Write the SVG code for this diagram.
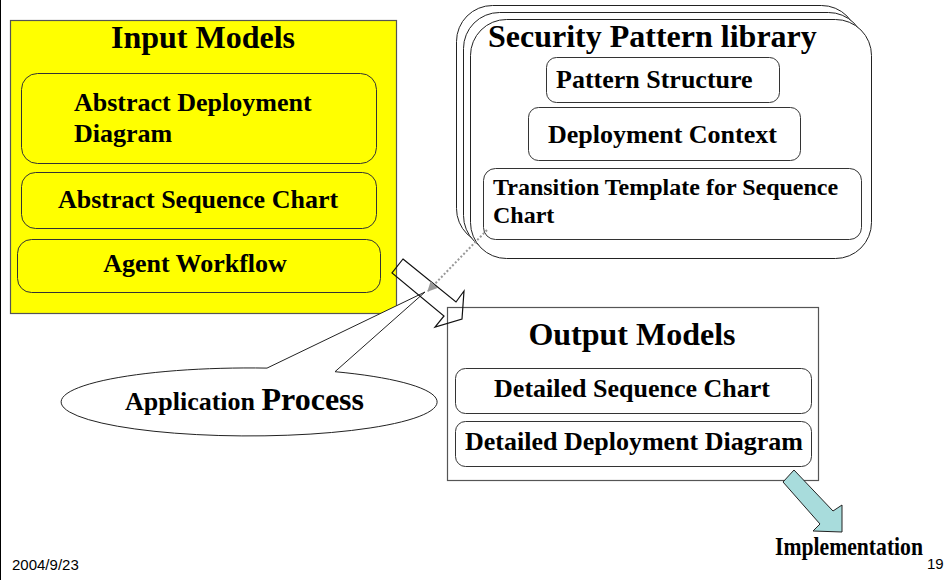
<svg xmlns="http://www.w3.org/2000/svg" width="946" height="580" viewBox="0 0 946 580">
<style>
.t{font-family:"Liberation Serif","Times New Roman",serif;font-weight:bold;fill:#000}
.h{font-size:32px}
.m{font-size:26px}
.s{font-size:24px}
.f{font-family:"Liberation Sans",Arial,sans-serif;font-size:15px;fill:#000}
.box{fill:none;stroke:#333;stroke-width:1}
.ybox{fill:#ffff00;stroke:#333;stroke-width:1}
.wbox{fill:#fff;stroke:#222;stroke-width:1}
</style>
<defs>
<marker id="ah" markerWidth="10" markerHeight="10" refX="9" refY="5" orient="auto" markerUnits="userSpaceOnUse">
<path d="M0,0 L10,5 L0,10 z" fill="#999"/>
</marker>
</defs>
<rect x="0" y="0" width="946" height="580" fill="#fff"/>
<line x1="0.5" y1="0" x2="0.5" y2="580" stroke="#000" stroke-width="1"/>

<g id="input-models">
<rect x="10.5" y="20.5" width="386" height="293" fill="#ffff00" stroke="#555" stroke-width="1.2"/>
<text class="t h" x="203" y="48" text-anchor="middle">Input Models</text>
<rect class="ybox" x="21.5" y="73.5" width="355" height="90" rx="16"/>
<text class="t m" x="74" y="111">Abstract Deployment</text>
<text class="t m" x="74" y="142">Diagram</text>
<rect class="ybox" x="21.5" y="172.5" width="355" height="56" rx="14"/>
<text class="t m" x="198" y="208" text-anchor="middle">Abstract Sequence Chart</text>
<rect class="ybox" x="17.5" y="239.5" width="363" height="53" rx="14"/>
<text class="t m" x="195" y="272" text-anchor="middle">Agent Workflow</text>
</g>

<g id="security-pattern-library">
<rect class="wbox" x="456.5" y="5.5" width="401" height="239" rx="36"/>
<rect class="wbox" x="463.5" y="12.5" width="401" height="239" rx="36"/>
<rect class="wbox" x="470.5" y="19.5" width="401" height="239" rx="36"/>
<text class="t h" x="488" y="47">Security Pattern library</text>
<rect class="box" x="546.5" y="57.5" width="233" height="45" rx="10"/>
<text class="t m" x="556" y="88">Pattern Structure</text>
<rect class="box" x="528.5" y="107.5" width="272" height="53" rx="10"/>
<text class="t m" x="548" y="143">Deployment Context</text>
<rect class="box" x="483.5" y="168.5" width="378" height="71" rx="12"/>
<text class="t s" x="493" y="195">Transition Template for Sequence</text>
<text class="t s" x="493" y="223">Chart</text>
</g>

<g id="output-models">
<rect x="447.5" y="307.5" width="371" height="173" fill="#fff" stroke="#555" stroke-width="1.2"/>
<text class="t h" x="632" y="345" text-anchor="middle">Output Models</text>
<rect class="box" x="455.5" y="368.5" width="356" height="45" rx="10"/>
<text class="t m" x="632" y="397" text-anchor="middle">Detailed Sequence Chart</text>
<rect class="box" x="455.5" y="421.5" width="356" height="45" rx="10"/>
<text class="t m" x="634" y="450" text-anchor="middle">Detailed Deployment Diagram</text>
</g>

<g id="application-process">
<path d="M267,368.1 A188,34 0 1 0 335,371.7 L425,292 Z" fill="#fff" stroke="#222" stroke-width="1"/>
<text class="t" x="125" y="410"><tspan font-size="26">Application </tspan><tspan font-size="32">Process</tspan></text>
</g>

<g id="implementation">
<text class="t" x="775" y="555" font-size="26" textLength="148" lengthAdjust="spacingAndGlyphs">Implementation</text>
</g>

<g id="connectors">
<polygon points="403,259 456,302 464,291 462,319 435,327 444,316 392,273" fill="none" stroke="#111" stroke-width="1.2"/>
<line x1="487" y1="230" x2="428" y2="291" stroke="#999" stroke-width="2" stroke-dasharray="2,2" marker-end="url(#ah)"/>
<polygon points="794,470 833,511 842,505 842,532 813,531 820,524 783,482" fill="#a8dcdc" stroke="#222" stroke-width="1"/>
</g>

<text class="f" x="12" y="570">2004/9/23</text>
<text class="f" x="927" y="569">19</text>
</svg>
